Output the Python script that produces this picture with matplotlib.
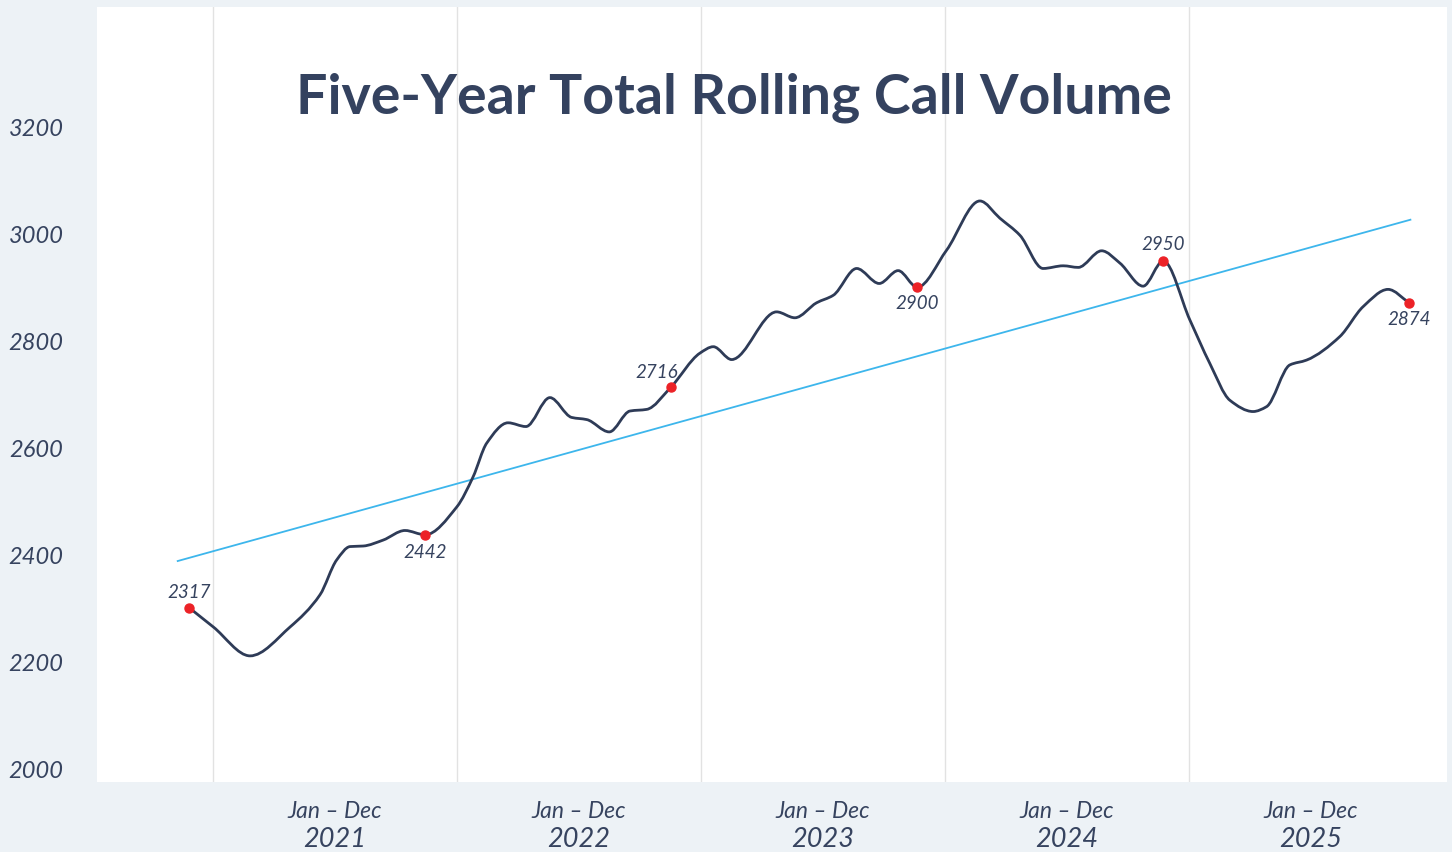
import numpy as np
import matplotlib
matplotlib.use("Agg")
import matplotlib.pyplot as plt
from matplotlib.path import Path
from matplotlib.patches import PathPatch
from matplotlib.transforms import blended_transform_factory

# ---- data (months measured from Jan 2021) ----
months = [-1.18, 0.01, 1.82, 3.79, 5.26, 6.08, 6.74, 7.38, 8.36, 9.44, 10.43,
          11.99, 12.79, 13.46, 14.51, 15.39, 16.57, 17.64, 18.38, 19.49, 20.51,
          21.33, 22.51, 23.95, 24.61, 25.51, 27.72, 28.62, 29.69, 30.51, 31.66,
          32.77, 33.70, 34.64, 36.08, 37.72, 38.70, 39.69, 40.83, 41.82, 42.56,
          43.71, 44.61, 45.75, 46.74, 48.05, 49.03, 50.02, 51.16, 51.82, 52.97,
          53.79, 55.43, 56.58, 57.80, 58.84]
volume = [2303, 2267, 2213, 2267, 2327, 2392, 2417, 2418, 2429, 2447, 2439,
          2491, 2547, 2610, 2648, 2641, 2695, 2658, 2654, 2631, 2670,
          2673, 2714, 2778, 2790, 2766, 2855, 2844, 2872, 2886, 2936,
          2908, 2932, 2901, 2970, 3062, 3030, 2998, 2936, 2941, 2938,
          2969, 2946, 2903, 2950, 2840, 2759, 2690, 2669, 2678, 2756,
          2765, 2809, 2865, 2897, 2872]

marker_idx = [0, 10, 22, 33, 44, 55]
marker_labels = ["2317", "2442", "2716", "2900", "2950", "2874"]
label_offsets_pt = [(0, 11), (0, -13), (-10, 11), (0, -12), (0, 12), (0, -12)]

trend_months = [-1.74, 58.9]
trend_values = [2390, 3027]

year_labels = ["2021", "2022", "2023", "2024", "2025"]
period_label = "Jan \u2013 Dec"
year_bounds = [0, 12, 24, 36, 48]
yticks = [2000, 2200, 2400, 2600, 2800, 3000, 3200]

title = "Five-Year Total Rolling Call Volume"

# ---- style ----
BG = "#edf2f6"
TEXT = "#36435f"
LINE = "#2e3b57"
TREND = "#3db6ec"
DOT = "#ec2227"
FONT = "Lato"

plt.rcParams["font.family"] = [FONT, "DejaVu Sans"]

fig = plt.figure(figsize=(14.52, 8.52), dpi=100, facecolor=BG)
ax = fig.add_axes([97 / 1452, 1 - 782 / 852, 1350 / 1452, 775 / 852])
ax.set_facecolor("white")
ax.set_xlim(-5.71, 60.70)
ax.set_ylim(1977.6, 3424)
for s in ax.spines.values():
    s.set_visible(False)

# vertical grid at year boundaries
for b in year_bounds:
    ax.axvline(b, color="#e2e2e2", lw=1.0, zorder=0)

# trend line
ax.plot(trend_months, trend_values, color=TREND, lw=1.3, zorder=2)


# smooth monotone cubic (Bezier) path through the series
def monotone_path(x, y):
    x = np.asarray(x, float)
    y = np.asarray(y, float)
    n = len(x)
    h = np.diff(x)
    d = np.diff(y) / h
    m = np.zeros(n)
    m[0] = d[0]
    m[-1] = d[-1]
    for i in range(1, n - 1):
        if d[i - 1] * d[i] <= 0:
            m[i] = 0.0
        else:
            w1 = 2 * h[i] + h[i - 1]
            w2 = h[i] + 2 * h[i - 1]
            m[i] = (w1 + w2) / (w1 / d[i - 1] + w2 / d[i])
    verts = [(x[0], y[0])]
    codes = [Path.MOVETO]
    for i in range(n - 1):
        dx = h[i] / 3
        verts += [(x[i] + dx, y[i] + m[i] * dx),
                  (x[i + 1] - dx, y[i + 1] - m[i + 1] * dx),
                  (x[i + 1], y[i + 1])]
        codes += [Path.CURVE4] * 3
    return Path(verts, codes)


ax.add_patch(PathPatch(monotone_path(months, volume), facecolor="none",
                       edgecolor=LINE, lw=2.0, zorder=3, capstyle="round",
                       joinstyle="round"))

# markers and labels
mx = [months[i] for i in marker_idx]
my = [volume[i] for i in marker_idx]
ax.plot(mx, my, "o", color=DOT, ms=6.5, zorder=4)
for xv, yv, lab, off in zip(mx, my, marker_labels, label_offsets_pt):
    ax.annotate(lab, (xv, yv), xytext=off, textcoords="offset points",
                ha="center", va="center", fontsize=13.5, style="italic",
                color=TEXT, zorder=5)

# y axis
ax.set_yticks(yticks)
ax.set_yticklabels([str(v) for v in yticks], fontsize=17, style="italic",
                   color=TEXT)
ax.tick_params(axis="y", length=0, pad=24)
ax.set_xticks([])

# x category labels
trans = blended_transform_factory(ax.transData, ax.transAxes)
for b, yl in zip(year_bounds, year_labels):
    c = b + 6
    ax.text(c, -0.0387, period_label, transform=trans, ha="center",
            va="center", fontsize=16.5, style="italic", color=TEXT)
    ax.text(c, -0.0748, yl, transform=trans, ha="center", va="center",
            fontsize=19.5, style="italic", color=TEXT)

# title
fig.text(0.5055, 1 - 98 / 852, title, ha="center", va="center",
         fontsize=40, fontweight="bold", color="#34425f")

fig.savefig("out.png", dpi=100, facecolor=BG)
